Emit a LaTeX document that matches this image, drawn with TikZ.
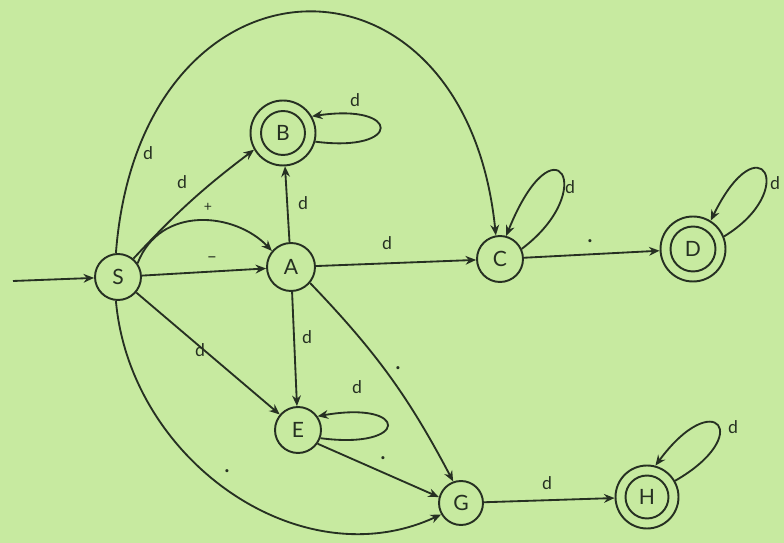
\documentclass[tikz,border=0pt]{standalone}
\usepackage{fontspec}
\setmainfont{Lato}
\usetikzlibrary{arrows.meta}
\definecolor{bg}{RGB}{199,234,160}
\definecolor{ink}{RGB}{38,48,34}
\begin{document}
\begin{tikzpicture}[x=0.02cm,y=-0.02cm,
  state/.style={circle,draw=ink,line width=1.1pt,minimum size=0.92cm,inner sep=0pt,font=\fontsize{12}{12}\selectfont,text=ink},
  accept/.style={state,minimum size=1.30cm},
  innerring/.style={draw=ink,line width=1.1pt},
  edge/.style={draw=ink,line width=1.05pt,-{Stealth[length=6pt,width=5pt]}},
  lbl/.style={font=\fontsize{10}{10}\selectfont,text=ink,inner sep=0pt},
  dotlbl/.style={font=\fontsize{14}{14}\selectfont,text=ink,inner sep=0pt}]
\path[use as bounding box,fill=bg] (0,0) rectangle (784,543);
% states
\node[state]  (S) at (118,277) {S};
\node[state,minimum size=0.96cm] (A) at (291,267) {A};
\node[accept] (B) at (283,133) {B};
\node[state]  (C) at (500,259) {C};
\node[accept] (D) at (693,249) {D};
\node[state]  (E) at (298,430) {E};
\node[state,minimum size=0.88cm]  (G) at (461,503) {G};
\node[accept,minimum size=1.26cm] (H) at (647,497) {H};
\draw[innerring] (B.center) circle (0.44cm);
\draw[innerring] (D.center) circle (0.45cm);
\draw[innerring] (H.center) circle (0.43cm);
% start
\coordinate (in0) at (13,281);
\draw[edge] (in0) -- (S);
% edges
\draw[edge] (S.95) .. controls (140,-60) and (465,-70) .. (C.100);
\draw[edge] (S.50) to[bend left=5] (B.-150);
\draw[edge] (S.35) .. controls (160,205) and (235,212) .. (A.140);
\draw[edge] (S) -- (A);
\draw[edge] (S) -- (E);
\draw[edge] (S.-95) .. controls (130,460) and (300,580) .. (G.-150);
\draw[edge] (A) -- (B);
\draw[edge] (A) -- (C);
\draw[edge] (A) -- (E);
\draw[edge] (A.-40) to[bend left=8] (G.110);
\draw[edge] (E.-35) -- (G.165);
\draw[edge] (G) -- (H);
\draw[edge] (C) -- (D);
% loops
\draw[edge] (B.-15) .. controls (402,153) and (402,103) .. (B.30);
\draw[edge] (C.25) .. controls (600,190) and (555,115) .. (C.75);
\draw[edge] (D.22) .. controls (800,190) and (760,120) .. (D.58);
\draw[edge] (E.-20) .. controls (410,450) and (410,400) .. (E.35);
\draw[edge] (H.30) .. controls (755,435) and (715,385) .. (H.75);
% labels
\node[lbl] (l1) at (148,153) {d};
\node[lbl] (l2) at (182,182) {d};
\node[lbl,font=\fontsize{8}{8}\selectfont] (l3) at (208,207) {+};
\node[lbl] (l4) at (212,260) {–};
\node[lbl] (l5) at (303,203) {d};
\node[lbl] (l6) at (387,243) {d};
\node[lbl] (l7) at (307,337) {d};
\node[lbl] (l8) at (200,350) {d};
\node[dotlbl] (l9) at (398,368) {.};
\node[dotlbl] (l10) at (227,471) {.};
\node[dotlbl] (l11) at (383,458) {.};
\node[lbl] (l12) at (547,483) {d};
\node[dotlbl] (l13) at (590,241) {.};
\node[lbl] (l14) at (355,100) {d};
\node[lbl] (l15) at (570,187) {d};
\node[lbl] (l16) at (775,183) {d};
\node[lbl] (l17) at (357,387) {d};
\node[lbl] (l18) at (733,427) {d};
\end{tikzpicture}
\end{document}
